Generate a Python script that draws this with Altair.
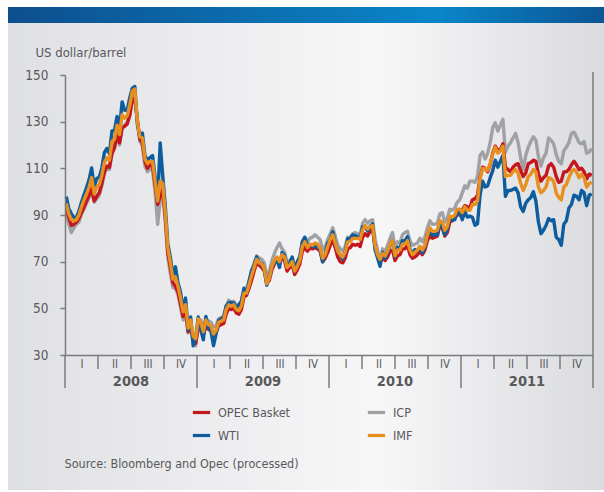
import json

import altair as alt
import pandas as pd

FONT = "DejaVu Sans Condensed, DejaVu Sans, sans-serif"
TEXT = "#58595b"
AXIS = "#7a7b7e"

YEARS = [2008, 2009, 2010, 2011]
QUARTERS = ["I", "II", "III", "IV"]
Y_TICKS = [30, 50, 70, 90, 110, 130, 150]
# legend fills column by column: OPEC Basket / WTI on the left, ICP / IMF on the right
SERIES = ["OPEC Basket", "WTI", "ICP", "IMF"]
COLORS = ["#c4161c", "#0d5c9e", "#a0a1a4", "#e8901f"]
DRAW_ORDER = ["ICP", "OPEC Basket", "WTI", "IMF"]
SOURCE = "Source: Bloomberg and Opec (processed)"
UNIT = "US dollar/barrel"

# Weekly crude prices, US dollar per barrel
opec_2008 = [92.5, 89.0, 85.5, 86.0, 87.0, 88.5, 91.0, 93.5, 96.0, 98.5, 101.5, 96.0, 98.0,
             99.5, 103.5, 108.5, 111.0, 110.5, 116.5, 119.0, 124.5, 121.0, 127.5, 128.0, 129.0,
             132.5, 139.5, 140.0, 130.5, 122.5, 121.0, 113.0, 110.0, 111.5, 111.0, 103.0, 94.5,
             98.0, 101.0, 89.0, 74.0, 67.5, 61.0, 59.5, 57.0, 52.0, 46.5, 48.5, 40.0, 42.5, 36.5, 35.0]
opec_2009 = [41.5, 42.0, 38.5, 42.5, 41.0, 40.5, 38.0, 39.5, 42.5, 43.0, 43.5, 47.5, 50.0, 49.5,
             50.0, 48.0, 47.5, 49.5, 55.0, 55.5, 58.5, 62.0, 66.0, 69.5, 68.5, 67.5, 66.0, 60.5,
             62.0, 66.5, 69.0, 71.0, 69.5, 71.5, 70.5, 66.0, 67.5, 68.5, 64.5, 66.5, 69.0, 74.5,
             76.0, 74.5, 76.0, 75.5, 76.0, 75.5, 74.5, 70.0, 71.5, 74.0]
opec_2010 = [77.0, 79.5, 76.0, 72.0, 70.0, 69.5, 71.5, 75.5, 76.0, 77.5, 77.0, 77.5, 76.5, 80.5,
             82.0, 81.0, 83.0, 84.0, 76.0, 72.5, 69.5, 72.0, 70.5, 72.0, 74.5, 75.0, 70.5, 72.5,
             73.0, 75.5, 75.5, 77.0, 73.0, 71.5, 72.0, 73.0, 74.5, 73.0, 75.0, 79.0, 81.0, 80.0,
             80.5, 81.0, 85.5, 84.5, 81.0, 82.5, 87.0, 87.5, 88.5, 90.5, 90.0]
opec_2011 = [92.0, 94.0, 93.5, 93.0, 96.5, 97.0, 98.5, 106.0, 110.5, 110.0, 108.5, 111.5, 116.5,
             119.5, 117.5, 118.0, 120.5, 110.5, 109.5, 108.5, 110.5, 111.5, 112.0, 109.0, 106.5,
             108.0, 112.0, 112.5, 113.5, 113.0, 107.5, 104.5, 106.0, 107.0, 111.0, 112.0, 110.5,
             106.5, 104.0, 104.5, 108.5, 108.5, 109.5, 111.5, 113.0, 111.5, 109.5, 110.0, 108.5,
             105.5, 107.5, 107.0]

icp_2008 = [90.0, 86.0, 82.5, 84.5, 86.0, 87.0, 90.5, 92.5, 95.0, 97.5, 100.5, 95.5, 97.0, 98.5,
            102.5, 107.5, 110.0, 109.5, 116.0, 118.5, 123.5, 120.0, 127.0, 128.5, 130.0, 133.0,
            140.0, 141.0, 131.0, 121.5, 119.5, 111.0, 108.5, 110.0, 109.0, 100.0, 86.0, 96.5,
            99.0, 87.5, 72.0, 65.0, 59.0, 58.5, 56.0, 50.5, 45.0, 47.5, 39.5, 42.0, 35.0, 34.0]
icp_2009 = [44.5, 45.0, 41.0, 45.5, 44.5, 44.0, 42.0, 42.5, 45.5, 46.0, 46.5, 50.5, 53.5, 52.5,
            53.0, 51.5, 50.5, 52.5, 58.0, 58.5, 61.5, 65.5, 69.5, 72.5, 71.5, 71.0, 69.5, 64.0,
            65.5, 70.5, 73.5, 76.0, 78.0, 75.5, 74.0, 69.5, 70.5, 71.5, 68.0, 69.5, 72.5, 78.5,
            80.0, 78.5, 80.0, 80.5, 81.5, 80.5, 79.5, 75.0, 76.5, 79.5]
icp_2010 = [82.0, 84.5, 81.0, 77.0, 75.5, 74.5, 76.5, 80.5, 80.5, 82.0, 82.5, 82.0, 81.5, 86.5,
            88.0, 86.5, 87.5, 88.0, 79.5, 75.0, 68.5, 75.5, 74.0, 77.0, 80.0, 82.5, 76.0, 78.5,
            78.0, 81.5, 82.5, 83.0, 79.0, 77.0, 77.5, 78.0, 80.0, 78.5, 80.5, 84.5, 87.5, 86.0,
            86.0, 86.5, 90.5, 91.0, 87.0, 88.5, 92.5, 92.0, 93.0, 95.5, 96.5]
icp_2011 = [99.5, 102.5, 101.5, 104.5, 104.5, 104.0, 106.5, 115.5, 117.0, 114.0, 116.5, 121.0,
            127.5, 129.5, 126.0, 128.5, 131.0, 117.0, 119.5, 121.0, 123.0, 125.0, 121.0, 114.5,
            109.5, 115.5, 119.0, 121.5, 123.5, 122.0, 115.0, 111.0, 114.5, 116.5, 123.0, 122.0,
            120.5, 116.0, 113.0, 112.0, 117.5, 119.0, 121.0, 125.0, 125.5, 123.5, 121.0, 120.5,
            121.5, 116.5, 117.0, 118.5]

wti_2008 = [97.9, 92.7, 90.6, 89.0, 89.0, 91.8, 95.5, 98.8, 101.8, 105.2, 110.2, 102.0, 105.6,
            106.2, 110.1, 116.7, 118.5, 116.3, 126.0, 126.3, 132.2, 127.4, 138.5, 134.9, 134.6,
            140.2, 144.3, 145.1, 128.9, 123.3, 125.1, 115.2, 113.8, 114.6, 115.5, 106.2, 96.0,
            120.9, 106.9, 93.9, 77.7, 71.9, 64.2, 67.8, 61.0, 57.0, 49.9, 54.4, 40.8, 46.3, 33.9, 37.7]
wti_2009 = [46.3, 40.8, 36.5, 46.5, 41.7, 40.2, 34.0, 38.9, 44.8, 45.5, 46.3, 51.1, 52.4, 52.5,
            52.2, 50.3, 51.6, 53.2, 58.6, 56.3, 61.7, 66.3, 68.4, 72.0, 69.6, 69.2, 66.7, 59.9,
            63.6, 68.1, 69.5, 70.9, 67.5, 73.9, 72.7, 68.0, 69.3, 72.0, 66.0, 70.0, 71.8, 78.5,
            80.5, 77.0, 77.4, 76.4, 76.7, 76.1, 75.5, 69.9, 73.4, 78.0]
wti_2010 = [79.4, 82.8, 78.0, 74.5, 72.9, 71.2, 74.1, 79.8, 79.7, 81.5, 81.2, 80.7, 80.0, 84.9,
            84.9, 83.2, 85.1, 86.2, 75.1, 71.6, 68.0, 74.0, 71.5, 73.8, 77.2, 78.9, 72.1, 76.1,
            76.0, 79.0, 79.0, 80.7, 75.4, 73.5, 75.2, 74.6, 76.5, 73.7, 76.5, 81.6, 82.7, 81.3,
            81.7, 81.4, 86.9, 84.9, 81.5, 83.8, 89.2, 87.8, 88.0, 91.5, 91.4]
wti_2011 = [88.0, 91.5, 89.1, 89.5, 89.0, 85.6, 86.2, 98.5, 104.5, 102.0, 102.5, 106.0, 109.0,
            113.5, 110.5, 113.0, 115.5, 98.0, 100.5, 100.5, 101.0, 101.5, 99.5, 93.5, 91.5, 95.0,
            96.5, 97.5, 100.0, 96.0, 87.0, 82.0, 83.5, 85.5, 88.5, 87.5, 88.0, 80.5, 79.5, 77.0,
            86.0, 87.5, 93.0, 94.5, 98.5, 98.0, 96.5, 100.5, 99.5, 94.0, 98.5, 99.0]

imf_2008 = [95.0, 90.5, 88.0, 87.5, 88.0, 90.0, 93.5, 96.5, 99.0, 102.0, 106.0, 99.0, 102.0,
            103.0, 107.0, 112.5, 114.5, 113.5, 121.5, 122.5, 128.5, 124.5, 133.0, 131.5, 132.5,
            137.0, 143.0, 144.0, 130.0, 123.5, 123.0, 114.0, 112.0, 113.0, 113.0, 104.5, 96.0,
            104.5, 103.5, 91.0, 76.0, 69.5, 62.5, 63.5, 59.5, 54.5, 48.5, 51.5, 41.5, 45.0, 38.0, 37.0]
imf_2009 = [45.5, 44.0, 40.0, 45.0, 43.0, 42.5, 39.0, 40.5, 44.0, 44.5, 45.0, 49.5, 51.5, 51.0,
            51.5, 49.5, 49.0, 51.0, 56.5, 56.5, 60.0, 64.0, 67.5, 71.0, 69.5, 69.0, 67.0, 60.5,
            63.0, 68.0, 70.5, 72.0, 70.0, 73.0, 72.0, 67.5, 68.5, 70.0, 66.0, 68.0, 70.5, 76.5,
            78.5, 76.0, 77.5, 77.0, 78.0, 77.5, 76.0, 71.5, 73.0, 76.5]
imf_2010 = [79.5, 81.5, 78.0, 74.5, 73.0, 72.0, 74.0, 78.5, 78.5, 80.0, 80.0, 80.0, 79.5, 83.5,
            85.5, 84.0, 85.0, 85.5, 77.0, 73.0, 71.0, 73.5, 72.5, 74.5, 77.5, 79.0, 72.5, 75.0,
            75.0, 77.5, 77.5, 79.0, 75.0, 73.0, 74.0, 75.0, 76.5, 75.0, 77.0, 81.5, 84.5, 83.0,
            83.0, 83.5, 87.5, 87.0, 83.5, 85.0, 89.5, 89.0, 90.0, 92.5, 92.5]
imf_2011 = [91.0, 93.5, 92.0, 92.0, 94.5, 94.5, 96.0, 105.5, 110.0, 110.0, 109.0, 112.0, 116.0,
            119.0, 116.5, 117.5, 119.5, 106.5, 107.0, 107.0, 108.5, 109.5, 108.0, 103.5, 100.5,
            103.0, 106.5, 107.5, 109.5, 108.5, 102.0, 99.5, 100.5, 102.0, 106.0, 105.5, 104.5,
            99.5, 97.5, 96.5, 102.0, 103.0, 106.0, 108.5, 109.5, 108.5, 106.0, 107.5, 106.0,
            102.0, 103.5, 104.0]

prices = {
    "OPEC Basket": [opec_2008, opec_2009, opec_2010, opec_2011],
    "ICP": [icp_2008, icp_2009, icp_2010, icp_2011],
    "WTI": [wti_2008, wti_2009, wti_2010, wti_2011],
    "IMF": [imf_2008, imf_2009, imf_2010, imf_2011],
}

# long table: one row per weekly observation, time as a decimal year
rows = []
for name, per_year in prices.items():
    for year, values in zip(YEARS, per_year):
        n = len(values)
        for i, v in enumerate(values):
            rows.append({"series": name, "t": year + (i + 0.5) / n, "price": v})
df = pd.DataFrame(rows)

W, H = 528, 280
END = YEARS[-1] + 1

quarter_mid = [y + (q + 0.5) / 4 for y in YEARS for q in range(4)]
quarter_expr = json.dumps(QUARTERS) + "[floor((datum.value - floor(datum.value)) * 4)]"

x_enc = alt.X(
    "t:Q",
    scale=alt.Scale(domain=[YEARS[0], END], nice=False, zero=False),
    axis=alt.Axis(
        values=quarter_mid, labelExpr=quarter_expr, ticks=False, tickSize=0,
        labelPadding=3, labelFontSize=11.5, labelColor=TEXT, labelFlush=False,
        labelOverlap=False, domainColor=AXIS, domainWidth=1.5, grid=False, zindex=1,
        title=SOURCE, titleX=-1, titleY=108, titleAlign="left", titleAnchor="start",
        titleBaseline="middle", titleFontSize=12.5, titleFontWeight="normal",
        titleColor=TEXT,
    ),
)
y_enc = alt.Y(
    "price:Q",
    scale=alt.Scale(domain=[Y_TICKS[0], Y_TICKS[-1]], nice=False, zero=False),
    axis=alt.Axis(
        values=Y_TICKS, tickSize=5, tickColor=AXIS, tickWidth=1.5, domainColor=AXIS,
        domainWidth=1.5, labelPadding=12, labelFontSize=13.5, labelColor=TEXT, grid=False,
        zindex=1, title=UNIT, titleAngle=0, titleX=-30, titleY=-23, titleAlign="left",
        titleBaseline="middle", titleFontSize=13, titleFontWeight="normal",
        titleColor=TEXT,
    ),
)
color_enc = alt.Color(
    "series:N",
    scale=alt.Scale(domain=SERIES, range=COLORS),
    legend=alt.Legend(
        title=None, orient="none", legendX=126, legendY=327, columns=2,
        columnPadding=70, rowPadding=6, symbolType="stroke", symbolSize=300,
        symbolStrokeWidth=3.2, labelFontSize=12.5, labelColor=TEXT, labelOffset=6,
        padding=0, zindex=1,
    ),
)

# panel backdrop and the blue header band
one = pd.DataFrame({"k": [0]})
panel = alt.Chart(one).mark_rect(
    color=alt.LinearGradient(
        gradient="linear", x1=0, x2=1, y1=0, y2=0,
        stops=[
            alt.GradientStop(color="#dfe0e3", offset=0),
            alt.GradientStop(color="#f7f7f8", offset=0.62),
            alt.GradientStop(color="#dadbde", offset=1),
        ],
    )
).encode(x=alt.value(-57), x2=alt.value(W + 11), y=alt.value(-52), y2=alt.value(H + 135))
header = alt.Chart(one).mark_rect(
    color=alt.LinearGradient(
        gradient="linear", x1=0, x2=1, y1=0, y2=0,
        stops=[
            alt.GradientStop(color="#0d4f8e", offset=0),
            alt.GradientStop(color="#0a86c8", offset=0.72),
            alt.GradientStop(color="#0b5595", offset=1),
        ],
    )
).encode(x=alt.value(-57), x2=alt.value(W + 11), y=alt.value(-68), y2=alt.value(-52))

# quarter and year separators below the time axis
q_bounds = pd.DataFrame({"t": [y + q / 4 for y in YEARS for q in (1, 2, 3)]})
quarter_ticks = alt.Chart(q_bounds).mark_rule(color=AXIS, strokeWidth=1.5).encode(
    x=x_enc, y=alt.value(H), y2=alt.value(H + 14)
)
y_bounds = pd.DataFrame({"t": YEARS + [END]})
year_lines = alt.Chart(y_bounds).mark_rule(color=AXIS, strokeWidth=1.5).encode(
    x=x_enc, y=alt.value(H), y2=alt.value(H + 33)
)
right_edge = alt.Chart(pd.DataFrame({"t": [END]})).mark_rule(color=AXIS, strokeWidth=1.5).encode(
    x=x_enc, y=alt.value(-3), y2=alt.value(H)
)
year_df = pd.DataFrame({"t": [y + 0.5 for y in YEARS], "label": [str(y) for y in YEARS]})
year_labels = alt.Chart(year_df).mark_text(
    font=FONT, fontSize=14.5, fontWeight="bold", color=TEXT, baseline="middle"
).encode(x=x_enc, y=alt.value(H + 26.5), text="label:N")

lines = [
    alt.Chart(df)
    .transform_filter(alt.datum.series == name)
    .mark_line(strokeWidth=3.4, strokeJoin="round")
    .encode(x=x_enc, y=y_enc, color=color_enc)
    for name in DRAW_ORDER
]

chart = (
    alt.layer(panel, header, quarter_ticks, year_lines, right_edge, year_labels, *lines)
    .properties(
        width=W,
        height=H,
        autosize=alt.AutoSizeParams(type="none"),
        padding={"left": 65, "top": 75, "right": 11, "bottom": 137},
    )
    .configure(background="white", font=FONT)
    .configure_view(stroke=None)
    .configure_axis(labelFont=FONT, titleFont=FONT)
    .configure_legend(labelFont=FONT)
)

chart.save("out.html", embed_options={"renderer": "svg", "actions": False})
